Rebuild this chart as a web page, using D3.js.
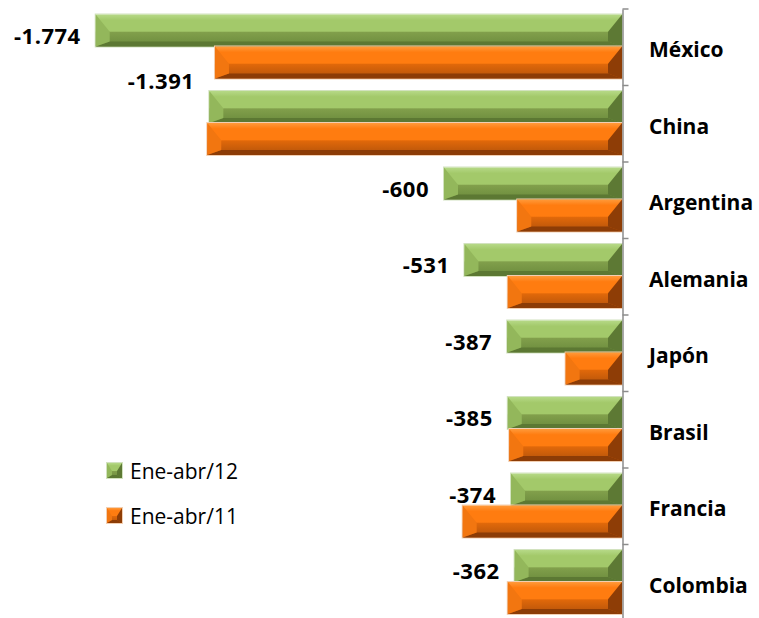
<!DOCTYPE html>
<html><head><meta charset="utf-8">
<script src="https://cdn.jsdelivr.net/npm/d3@7/dist/d3.min.js"></script>
<style>html,body{margin:0;padding:0;background:#fff}svg{display:block}</style>
</head><body><svg id="c" width="759" height="618"></svg>
<script>
const categories = ["México","China","Argentina","Alemania","Japón","Brasil","Francia","Colombia"];
const seriesNames = ["Ene-abr/12","Ene-abr/11"];
const values12 = [-1774,-1391,-600,-531,-387,-385,-374,-362];
const values11 = [-1372,-1398,-353,-385,-190,-380,-537,-385];
const labels12 = ["-1.774","-1.391","-600","-531","-387","-385","-374","-362"];

const svg = d3.select("#c");
const x = d3.scaleLinear().domain([-1800,0]).range([88,622]);
const y = d3.scaleBand().domain(categories).range([9,621]).padding(0);
const ys = d3.scaleBand().domain(seriesNames).range([5.5,69.5]).padding(0);

const pal = {
  "Ene-abr/12": {hi:"#b6d987", up:"#a3c96a", lo1:"#819f4b", lo2:"#6a8a3c", bot:"#5c7833", left:"#93b75b", right:"#5d7934", stroke:"#d2e2bf"},
  "Ene-abr/11": {hi:"#ff9a3a", up:"#ff7c10", lo1:"#e0680a", lo2:"#b3520a", bot:"#8c3c06", left:"#f27610", right:"#8e3d06", stroke:"#f2cfb2"}
};

const defs = svg.append("defs");
seriesNames.forEach((s,i)=>{
  const p = pal[s];
  const g = defs.append("linearGradient").attr("id","g"+i).attr("x1",0).attr("y1",0).attr("x2",0).attr("y2",1);
  [["0%",p.hi],["18%",p.up],["52%",p.up],["56%",p.lo1],["100%",p.lo2]].forEach(([o,c])=>
    g.append("stop").attr("offset",o).attr("stop-color",c));
});

function bevelBar(g, x0, x1, y0, y1, s, idx, bw, bh){
  const p = pal[s];
  const w = Math.min(bw, (x1-x0)/2), h = Math.min(bh,(y1-y0)/2);
  const ym = y0 + (y1-y0)*0.54;
  g.append("rect").attr("x",x0-0.5).attr("y",y0-0.5).attr("width",x1-x0+1).attr("height",y1-y0+1)
    .attr("fill","none").attr("stroke",p.stroke).attr("stroke-width",1);
  const poly = (pts,fill)=>g.append("polygon").attr("points",pts.map(d=>d.join(",")).join(" ")).attr("fill",fill);
  g.append("rect").attr("x",x0).attr("y",y0).attr("width",x1-x0).attr("height",y1-y0).attr("fill","url(#g"+idx+")");
  poly([[x0,y1],[x1,y1],[x1-w,y1-h],[x0+w,y1-h]], p.bot);
  poly([[x0,y0],[x0+w,ym],[x0+w,y1-h],[x0,y1]], p.left);
  poly([[x1,y0],[x1-w,ym],[x1-w,y1-h],[x1,y1]], p.right);
}

const seriesData = [values12, values11];
seriesNames.forEach((s,si)=>{
  categories.forEach((c,ci)=>{
    const v = seriesData[si][ci];
    const y0 = y(c)+ys(s), y1 = y0+ys.bandwidth();
    const g = svg.append("g").attr("class","bar");
    bevelBar(g, x(v), x(0), y0, y1, s, si, 14, 5);
  });
});

// axis
const axis = d3.axisRight(y).tickSize(0).tickFormat("").tickSizeOuter(0);
const ag = svg.append("g").attr("transform","translate(622.5,0)").call(axis);
ag.select(".domain").attr("stroke","#8c8c8c").attr("stroke-width",1.5);
ag.selectAll(".tick").remove();
const boundaries = categories.map(c=>y(c)).concat([y.range()[1]]);
ag.selectAll("line.b").data(boundaries).join("line").attr("class","b")
  .attr("x1",0).attr("x2",6).attr("y1",d=>d).attr("y2",d=>d).attr("stroke","#8c8c8c").attr("stroke-width",1.5);

// category labels
svg.selectAll("text.cat").data(categories).join("text").attr("class","cat")
  .attr("x",649).attr("y",d=>y(d)+y.bandwidth()/2+2)
  .attr("dominant-baseline","central")
  .attr("font-family","'Open Sans', sans-serif").attr("font-weight","bold").attr("font-size",21)
  .attr("fill","#000").text(d=>d);

// value labels (Ene-abr/12)
const nudge = {"China": -31};
svg.selectAll("text.val").data(categories).join("text").attr("class","val")
  .attr("x",(d,i)=>x(values12[i])-15)
  .attr("y",d=>y(d)+ys(seriesNames[0])+ys.bandwidth()/2+4+(nudge[d]||0))
  .attr("dominant-baseline","central").attr("text-anchor","end")
  .attr("font-family","'Open Sans', sans-serif").attr("font-weight","bold").attr("font-size",22)
  .attr("letter-spacing","0.5")
  .attr("fill","#000").text((d,i)=>labels12[i]);

// legend
const lg = svg.append("g");
seriesNames.forEach((s,i)=>{
  const ly = 463 + i*45;
  const g = lg.append("g");
  bevelBar(g, 107, 122, ly, ly+15, s, i, 5, 3);
  g.append("text").attr("x",130).attr("y",ly+8).attr("dominant-baseline","central")
    .attr("font-family","'Open Sans', sans-serif").attr("font-size",21).attr("fill","#000").text(s);
});
</script></body></html>
